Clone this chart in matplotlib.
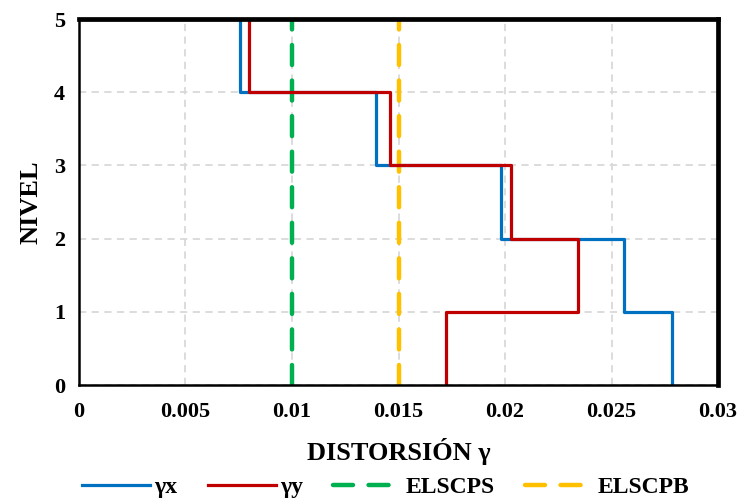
import matplotlib.pyplot as plt
import numpy as np

# story drifts, from story 1 (bottom) to story 5 (top)
stories = [1, 2, 3, 4, 5]
drift_x = [0.02785, 0.0256, 0.0198, 0.01396, 0.00755]
drift_y = [0.01723, 0.02343, 0.0203, 0.0146, 0.00798]
limit_names = ["ELSCPS", "ELSCPB"]
limit_values = [0.010, 0.015]

colors = {"x": "#0070C0", "y": "#C00000"}
limit_colors = ["#00B050", "#FFC000"]


def step_profile(drifts, levels):
    # vertical segment per story, joined by horizontal ones; closes at x=0 on top
    xs, ys = [], []
    for d, lv in zip(drifts, levels):
        xs += [d, d]
        ys += [lv - 1, lv]
    xs.append(0)
    ys.append(levels[-1])
    return np.array(xs), np.array(ys)


plt.rcParams["font.family"] = ["Liberation Serif", "DejaVu Serif"]
plt.rcParams["font.weight"] = "bold"

fig = plt.figure(figsize=(7.41, 5.01), dpi=100)
ax = fig.add_axes([0.1066, 0.2315, 0.969 - 0.1066, 0.962 - 0.2315])

ax.grid(True, color="#d9d9d9", linestyle=(0, (4, 3)), linewidth=1.3)
ax.set_axisbelow(True)

xx, yx = step_profile(drift_x, stories)
xy, yy = step_profile(drift_y, stories)
ax.plot(xx, yx, color=colors["x"], lw=2.3, label="γx", zorder=3)
ax.plot(xy, yy, color=colors["y"], lw=2.3, label="γy", zorder=4)

for name, val, c in zip(limit_names, limit_values, limit_colors):
    ax.plot([val, val], [0, 5], color=c, lw=3.2, dashes=(4.5, 3.5),
            dash_capstyle="round", label=name, zorder=2)

ax.set_xlim(0, 0.03)
ax.set_ylim(0, 5)
ax.set_xticks(np.arange(0, 0.0301, 0.005))
ax.set_xticklabels(["0", "0.005", "0.01", "0.015", "0.02", "0.025", "0.03"])
ax.set_yticks(range(0, 6))
ax.tick_params(length=0, labelsize=16)
ax.tick_params(axis="x", pad=12)
ax.tick_params(axis="y", pad=10)
for lab in ax.get_xticklabels() + ax.get_yticklabels():
    lab.set_fontweight("bold")

ax.set_xlabel("DISTORSIÓN γ", fontsize=19, fontweight="bold", labelpad=12)
ax.set_ylabel("NIVEL", fontsize=19, fontweight="bold", labelpad=8)

for side in ["top", "right"]:
    ax.spines[side].set_linewidth(3.4)
for side in ["left", "bottom"]:
    ax.spines[side].set_linewidth(1.8)
for sp in ax.spines.values():
    sp.set_color("black")
    sp.set_zorder(5)

leg = fig.legend(loc="center", bbox_to_anchor=(0.52, 0.027), ncol=4, frameon=False,
                 fontsize=17, handlelength=2.9, columnspacing=1.3, handletextpad=0.15)
for t in leg.get_texts():
    t.set_fontweight("bold")

fig.savefig("out.png", dpi=100)
